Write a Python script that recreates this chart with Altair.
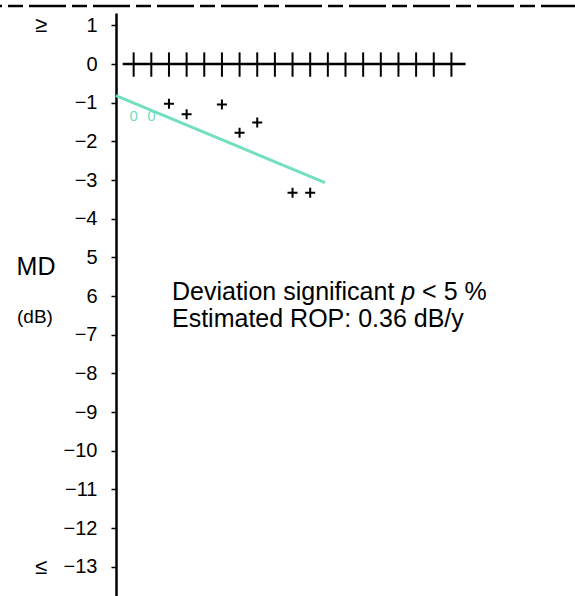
import altair as alt
import pandas as pd

# ---- data ----
tick_u = list(range(1, 20))                     # marks on the 0 dB line
zero_line_u = [0.38, 19.8]
ref_u = [1, 2]                                  # baseline exams ("0")
ref_md = [-1.34, -1.34]
fu_u = [3, 4, 6, 7, 8, 10, 11]                  # follow-up exams ("+")
fu_md = [-1.03, -1.30, -1.05, -1.78, -1.51, -3.33, -3.33]
trend_u = [0, 11.84]
trend_md = [-0.82, -3.07]
y_ticks = [1, 0, -1, -2, -3, -4, -5, -6, -7, -8, -9, -10, -11, -12, -13]
y_labels = ["1", "0", "−1", "−2", "−3", "−4", "5", "6", "−7", "−8", "−9",
            "−10", "−11", "−12", "−13"]
limit_syms = ["≥", "≤"]
limit_vals = [1, -13]
ceiling_md = 1.5
ann_line1 = ["Deviation significant", "p", "< 5 %"]
ann_line2 = "Estimated ROP: 0.36 dB/y"
ylabel_main = "MD"
ylabel_unit = "(dB)"

FONT = "Liberation Sans"
TEAL = "#74DEC0"

PPD = 38.67
W, H = 459, 583
y_top = 51 / PPD
y_bot = -(H - 51) / PPD

xs = alt.Scale(domain=[0, 26], nice=False, zero=False)
ys = alt.Scale(domain=[y_bot, y_top], nice=False, zero=False)

label_expr = "".join(f"datum.value == {v} ? '{l}' : " for v, l in zip(y_ticks, y_labels)) + "''"
yaxis = alt.Axis(values=y_ticks, labelExpr=label_expr, labelFont=FONT, labelFontSize=20,
                 labelColor="black", tickSize=5, tickWidth=1.5, tickColor="black",
                 domainColor="black", domainWidth=2.5, labelPadding=14, title=None,
                 grid=False, labelFlush=False, labelOverlap=False)


def X(f):
    return alt.X(f, type="quantitative", scale=xs, axis=None)


def Y(f):
    return alt.Y(f, type="quantitative", scale=ys, axis=yaxis)


# axis carrier
axis_df = pd.DataFrame({"v": y_ticks})
axis_layer = alt.Chart(axis_df).mark_point(opacity=0).encode(y=Y("v"), x=alt.value(0))

# dashed ceiling line
ceil_df = pd.DataFrame({"v": [ceiling_md]})
ceil = alt.Chart(ceil_df).mark_rule(color="black", strokeWidth=2.5, strokeDash=[37, 6, 15, 6],
                                    strokeDashOffset=35).encode(
    y=Y("v"), x=alt.value(-116), x2=alt.value(W))

# zero line
zl_df = pd.DataFrame({"u": [zero_line_u[0]], "u2": [zero_line_u[1]], "v": [0]})
zline = alt.Chart(zl_df).mark_rule(color="black", strokeWidth=2.5).encode(
    x=X("u"), x2="u2", y=Y("v"))

tk_df = pd.DataFrame({"u": tick_u, "a": 0.3, "b": -0.33})
zticks = alt.Chart(tk_df).mark_rule(color="black", strokeWidth=2).encode(
    x=X("u"), y=Y("a"), y2="b")

# trend
tr_df = pd.DataFrame({"u": trend_u, "v": trend_md})
trend = alt.Chart(tr_df).mark_line(color=TEAL, strokeWidth=3).encode(x=X("u"), y=Y("v"))

# baseline points
rf_df = pd.DataFrame({"u": ref_u, "v": ref_md})
refs = alt.Chart(rf_df).mark_text(text="0", font=FONT, fontSize=15, color=TEAL,
                                  baseline="middle", align="center").encode(x=X("u"), y=Y("v"))

# follow-up points
fu_df = pd.DataFrame({"u": fu_u, "v": fu_md})
plus = alt.Chart(fu_df).mark_point(shape="M-1,0L1,0M0,-1L0,1", size=100, strokeWidth=2,
                                   color="black", filled=False, opacity=1).encode(
    x=X("u"), y=Y("v"))

# >= / <= symbols
lim_df = pd.DataFrame({"s": limit_syms, "v": limit_vals})
lims = alt.Chart(lim_df).mark_text(font=FONT, fontSize=22, color="black", align="center",
                                   baseline="middle").encode(
    text="s:N", y=Y("v"), x=alt.value(-75))

one = pd.DataFrame({"k": [0]})


def txt(t, x, y, size, align="left", baseline="alphabetic", style="normal"):
    return alt.Chart(one).mark_text(text=t, font=FONT, fontSize=size, color="black",
                                    align=align, baseline=baseline, fontStyle=style).encode(
        x=alt.value(x), y=alt.value(y))


md = txt(ylabel_main, -80, 254, 25, align="center", baseline="middle")
unit = txt(ylabel_unit, -81, 303.5, 19, align="center", baseline="middle")
a1 = txt(ann_line1[0], 56, 287, 25)
a2 = txt(ann_line1[1], 285.3, 287, 25, style="italic")
a3 = txt(ann_line1[2], 306.1, 287, 25)
b1 = txt(ann_line2, 56, 314, 25)

chart = alt.layer(axis_layer, ceil, zline, zticks, trend, refs, plus, lims, md, unit,
                  a1, a2, a3, b1).properties(
    width=W, height=H,
    autosize=alt.AutoSizeParams(type="none"),
    padding={"left": 116, "top": 13, "right": 0, "bottom": 0},
    background="white",
).configure_view(stroke=None)

chart.save("out.html", embed_options={"renderer": "svg", "actions": False})
